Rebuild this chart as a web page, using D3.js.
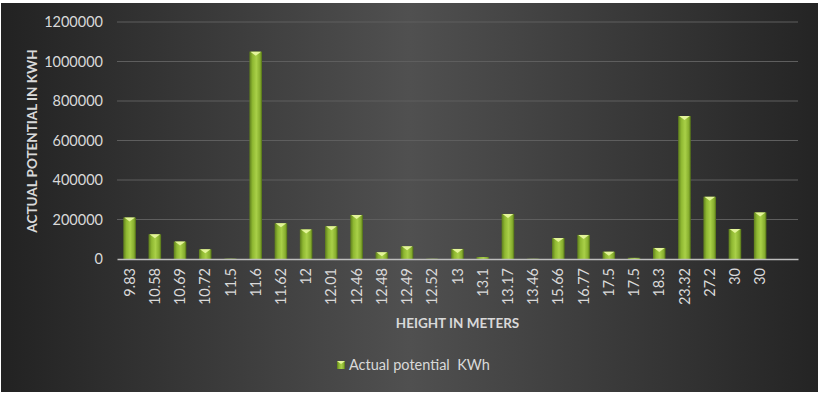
<!DOCTYPE html>
<html>
<head>
<meta charset="utf-8">
<script src="https://cdn.jsdelivr.net/npm/d3@7"></script>
<style>
  body { margin: 0; background: #fff; }
  svg { display: block; }
</style>
</head>
<body>
<div id="chart"></div>
<script>
// Data
const heights = ['9.83', '10.58', '10.69', '10.72', '11.5', '11.6', '11.62', '12', '12.01', '12.46',
  '12.48', '12.49', '12.52', '13', '13.1', '13.17', '13.46', '15.66', '16.77', '17.5',
  '17.5', '18.3', '23.32', '27.2', '30', '30', '']
const potential = [210000, 125000, 88000, 49000, 2000, 1050000, 181000, 150000, 166000, 223000,
  34000, 64000, 1500, 51000, 10000, 228000, 1500, 106000, 122000, 37000,
  6000, 56000, 724000, 315000, 152000, 236000, null]
const yTicks = [0, 200000, 400000, 600000, 800000, 1000000, 1200000]
const seriesName = 'Actual potential  KWh'

// Dimensions
const width = 823, height = 396
const frame = { left: 1, top: 3, right: 818, bottom: 392 }
const plot = { left: 117, right: 798, top: 22, bottom: 259 }

const svg = d3.select('#chart').append('svg')
  .attr('width', width)
  .attr('height', height)

const defs = svg.append('defs')

const bg = defs.append('linearGradient').attr('id', 'bg')
  .attr('x1', 0).attr('x2', 1).attr('y1', 0).attr('y2', 0)
bg.append('stop').attr('offset', '0%').attr('stop-color', '#222222')
bg.append('stop').attr('offset', '50%').attr('stop-color', '#505050')
bg.append('stop').attr('offset', '100%').attr('stop-color', '#242424')

const barGrad = defs.append('linearGradient').attr('id', 'bar')
  .attr('x1', 0).attr('x2', 1).attr('y1', 0).attr('y2', 0)
barGrad.append('stop').attr('offset', '0%').attr('stop-color', '#5d7d1c')
barGrad.append('stop').attr('offset', '25%').attr('stop-color', '#8fb832')
barGrad.append('stop').attr('offset', '55%').attr('stop-color', '#a9d048')
barGrad.append('stop').attr('offset', '85%').attr('stop-color', '#86ad2e')
barGrad.append('stop').attr('offset', '100%').attr('stop-color', '#4f6c16')

svg.append('rect')
  .attr('x', frame.left)
  .attr('y', frame.top)
  .attr('width', frame.right - frame.left)
  .attr('height', frame.bottom - frame.top)
  .attr('fill', 'url(#bg)')

// Scales
const xScale = d3.scaleBand()
  .domain(heights.map((d, i) => i))
  .range([plot.left, plot.right])
  .paddingInner(0.5)
  .paddingOuter(0.25)

const yScale = d3.scaleLinear()
  .domain([0, 1200000])
  .range([plot.bottom, plot.top])

// Gridlines
svg.append('g')
  .selectAll('line')
  .data(yTicks.slice(1))
  .join('line')
  .attr('x1', plot.left)
  .attr('x2', plot.right)
  .attr('y1', d => yScale(d))
  .attr('y2', d => yScale(d))
  .attr('stroke', '#5e5e5e')
  .attr('stroke-width', 1)

// Y axis
const yAxis = d3.axisLeft(yScale)
  .tickValues(yTicks)
  .tickSize(0)
  .tickPadding(14)
  .tickFormat(d3.format('d'))

const yAxisGroup = svg.append('g')
  .attr('transform', `translate(${plot.left},0)`)
  .call(yAxis)
yAxisGroup.select('.domain').remove()
yAxisGroup.selectAll('text')
  .attr('fill', '#d9d9d9')
  .attr('font-family', 'Lato, sans-serif')
  .attr('font-size', 14.5)

// Bars
const bars = svg.append('g')
  .selectAll('g')
  .data(potential.map((v, i) => ({ i, v })).filter(d => d.v != null))
  .join('g')

bars.append('rect')
  .attr('x', d => xScale(d.i))
  .attr('y', d => yScale(d.v))
  .attr('width', xScale.bandwidth())
  .attr('height', d => plot.bottom - yScale(d.v))
  .attr('fill', 'url(#bar)')

bars.filter(d => plot.bottom - yScale(d.v) > 4)
  .append('path')
  .attr('d', d => {
    const x0 = xScale(d.i), w = xScale.bandwidth(), y0 = yScale(d.v)
    return `M${x0 + 1},${y0} L${x0 + w - 1},${y0} L${x0 + w / 2},${y0 + 4} Z`
  })
  .attr('fill', '#e4f59a')

// X axis
const xAxis = d3.axisBottom(xScale)
  .tickSize(0)
  .tickFormat(i => heights[i])

const xAxisGroup = svg.append('g')
  .attr('transform', `translate(0,${plot.bottom})`)
  .call(xAxis)
xAxisGroup.select('.domain')
  .attr('stroke', '#bdbdbd')
  .attr('stroke-width', 1.5)
xAxisGroup.selectAll('text')
  .attr('fill', '#d9d9d9')
  .attr('font-family', 'Lato, sans-serif')
  .attr('font-size', 14.5)
  .attr('transform', 'rotate(-90)')
  .attr('text-anchor', 'end')
  .attr('dy', '0.35em')
  .attr('x', -9)
  .attr('y', 0)

// Axis titles
svg.append('text')
  .attr('transform', `translate(37,141) rotate(-90)`)
  .attr('text-anchor', 'middle')
  .attr('fill', '#d9d9d9')
  .attr('font-family', 'Lato, sans-serif')
  .attr('font-weight', 'bold')
  .attr('font-size', 13.5)
  .text('ACTUAL POTENTIAL IN KWH')

svg.append('text')
  .attr('x', (plot.left + plot.right) / 2)
  .attr('y', 328)
  .attr('text-anchor', 'middle')
  .attr('fill', '#d9d9d9')
  .attr('font-family', 'Lato, sans-serif')
  .attr('font-weight', 'bold')
  .attr('font-size', 13.5)
  .text('HEIGHT IN METERS')

// Legend
const legend = svg.append('g').attr('transform', 'translate(337,361)')
legend.append('rect')
  .attr('width', 8)
  .attr('height', 8)
  .attr('fill', 'url(#bar)')
legend.append('path')
  .attr('d', 'M0,0 L8,0 L4,3 Z')
  .attr('fill', '#e4f59a')
legend.append('text')
  .attr('x', 12)
  .attr('y', 9)
  .attr('fill', '#d9d9d9')
  .attr('font-family', 'Lato, sans-serif')
  .attr('font-size', 14.5)
  .style('white-space', 'pre')
  .text(seriesName)
</script>
</body>
</html>
